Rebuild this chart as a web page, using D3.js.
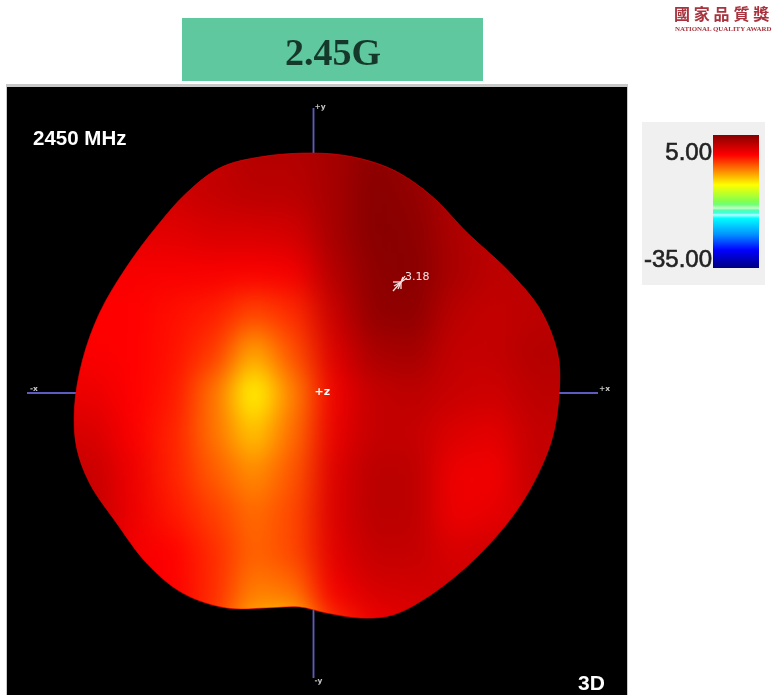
<!DOCTYPE html>
<html>
<head>
<meta charset="utf-8">
<script src="https://cdnjs.cloudflare.com/ajax/libs/d3/7.8.5/d3.min.js"></script>
<style>
  html, body { margin: 0; padding: 0; background: #fff; overflow: hidden; }
  svg { display: block; }
</style>
</head>
<body>
<div id="chart"></div>
<script>
// Surface outline, in plot units from the origin (y up)
const outlineX = [0, -54, -94, -127, -154, -187, -214, -231, -239, -237, -224, -197, -167, -131, -87, -47, -14, 13, 47, 79, 114, 157, 194, 220, 239, 246, 244, 227, 197, 154, 117, 80, 40];
const outlineY = [240, 236, 225, 200, 170, 126, 80, 33, -14, -54, -90, -130, -170, -200, -215, -215, -214, -220, -225, -222, -204, -170, -130, -90, -44, 6, 40, 83, 120, 160, 198, 223, 236];

// Gain grid in dB
const gridX = [-260, -220, -180, -140, -100, -60, -20, 20, 60, 100, 140, 180, 220, 260];
const gridY = [280, 240, 200, 160, 120, 80, 40, 0, -40, -80, -120, -160, -200, -240, -280];
const gainRows = [
  [2, 2, 2, 2, 2, 2.8, 2.8, 3.5, 4.8, 4, 3, 2, 2, 2],
  [2, 2, 2, 2, 2, 2.8, 2.8, 3.5, 4.8, 4, 3, 2, 2, 2],
  [1.5, 1.5, 1.5, 1.5, 2, 2.5, 2.5, 3.5, 5, 4.5, 3, 2, 2, 2],
  [0.5, 0.5, 0.5, 0.5, 1, 1, 1.3, 3.5, 5, 4.8, 3.2, 2.4, 2.4, 2.4],
  [-0.7, -0.7, -0.7, -0.7, -0.7, -0.8, -0.5, 2.8, 4.7, 5, 3.3, 2.4, 2.4, 2.4],
  [-1, -1, -1, -1.5, -2, -3.5, -2.5, 1.8, 4.5, 4.7, 2.5, 2, 2.4, 2.4],
  [-0.8, -0.8, -1, -1.6, -3, -7, -3.8, 0.8, 3.3, 3.6, 2, 2, 2.8, 2.8],
  [0, 0, -1, -1.8, -5, -10, -5.5, -0.3, 2, 2.4, 1.8, 1.5, 2.4, 2.4],
  [1, 1, -0.8, -2.2, -5, -8, -4.8, 0.1, 2, 2, 0.8, 0.4, 2, 2],
  [1.8, 1.8, -0.2, -2.2, -4.2, -6, -4, 0.7, 2.5, 2.4, -0.2, -0.4, 2, 2],
  [2, 2, -0.2, -1.8, -3.2, -4.8, -3.5, 0.8, 2.5, 2.4, -0.2, 0.2, 1.5, 1.5],
  [2, 2, -0.4, -1, -2.5, -4.5, -3.5, 0.5, 2, 2, 1, 1.5, 1.5, 1.5],
  [0.8, 0.8, -0.5, -0.8, -2.5, -5.5, -5, -0.5, 1, 1.2, 1.5, 1.5, 1.5, 1.5],
  [-0.5, -0.5, -0.5, -1, -3, -8, -9, -3, -0.5, 0.5, 1, 1, 1, 1],
  [-0.5, -0.5, -0.5, -1, -3, -8, -9, -3, -0.5, 0.5, 1, 1, 1, 1]
];

// Legend colour bar
const legendLevels = [5, 3, 1, -1, -5.5, -10, -15, -16, -17, -17.6, -18.5, -19, -20, -25, -29.6, -35];
const legendColors = ["#880000", "#b00000", "#d80000", "#ff0000", "#ff8000", "#ffff00", "#80ff50", "#70ff80", "#c8ffc0", "#50ffb0", "#40ffe0", "#b8ffff", "#00ffff", "#0090ff", "#0000ff", "#000080"];
const legendTicks = [5, -35];

const axisEnds = [
  { label: "+y", x: 0, y: 285 },
  { label: "-y", x: 0, y: -285 },
  { label: "+x", x: 284.5, y: 0 },
  { label: "-x", x: -286.5, y: 0 }
];
const peakValue = 3.18;

const width = 773;
const height = 695;

const svg = d3.select("#chart")
  .append("svg")
  .attr("width", width)
  .attr("height", height);

const defs = svg.append("defs");

// Scales
const xScale = d3.scaleLinear().domain([-300, 300]).range([13.5, 613.5]);
const yScale = d3.scaleLinear().domain([-300, 300]).range([693, 93]);
const colorScale = d3.scaleLinear().domain(legendLevels).range(legendColors).clamp(true);
const legendScale = d3.scaleLinear().domain([5, -35]).range([135, 268]);

defs.append("filter").attr("id", "soft")
  .attr("x", "-5%").attr("y", "-5%").attr("width", "110%").attr("height", "110%")
  .attr("color-interpolation-filters", "sRGB")
  .append("feGaussianBlur").attr("stdDeviation", 15);

defs.append("filter").attr("id", "textBlur")
  .attr("x", "-10%").attr("y", "-20%").attr("width", "120%").attr("height", "140%")
  .append("feGaussianBlur").attr("stdDeviation", 0.5);

const outline = d3.line()
  .x(d => xScale(d[0]))
  .y(d => yScale(d[1]))
  .curve(d3.curveCatmullRomClosed);

const outlinePoints = d3.zip(outlineX, outlineY);

defs.append("clipPath").attr("id", "surfaceClip")
  .append("path").attr("d", outline(outlinePoints));

// Title box
svg.append("rect")
  .attr("x", 182).attr("y", 18).attr("width", 301).attr("height", 63)
  .attr("fill", "#5fc89e");

svg.append("text")
  .attr("x", 333).attr("y", 65)
  .attr("text-anchor", "middle")
  .attr("font-family", "Liberation Serif")
  .attr("font-weight", "bold")
  .attr("font-size", 38)
  .attr("fill", "#17382c")
  .attr("filter", "url(#textBlur)")
  .text("2.45G");

// Logo in the corner
const logo = svg.append("g").attr("filter", "url(#textBlur)");
logo.append("text")
  .attr("x", 674).attr("y", 20)
  .attr("font-family", "Noto Sans CJK TC")
  .attr("font-weight", "bold")
  .attr("font-size", 16)
  .attr("letter-spacing", 3.8)
  .attr("fill", "#a8323c")
  .text("國家品質獎");
logo.append("text")
  .attr("x", 675).attr("y", 31)
  .attr("font-family", "Liberation Serif")
  .attr("font-weight", "bold")
  .attr("font-size", 6.9)
  .attr("fill", "#a8323c")
  .text("NATIONAL QUALITY AWARD");

// Black plot panel
svg.append("rect")
  .attr("x", 6).attr("y", 84).attr("width", 622).attr("height", 611)
  .attr("fill", "#c8c8c8");
svg.append("rect")
  .attr("x", 7).attr("y", 87).attr("width", 620).attr("height", 608)
  .attr("fill", "#000");

// Axes behind the surface
const axes = svg.append("g");
axes.selectAll("line")
  .data(axisEnds)
  .enter()
  .append("line")
  .attr("x1", xScale(0))
  .attr("y1", yScale(0))
  .attr("x2", d => xScale(d.x))
  .attr("y2", d => yScale(d.y))
  .attr("stroke", "#5c5cc0")
  .attr("stroke-width", 1.8);

axes.selectAll("text")
  .data(axisEnds)
  .enter()
  .append("text")
  .attr("x", d => xScale(d.x) + (d.x < 0 ? 3 : 1))
  .attr("y", d => yScale(d.y) + (d.x !== 0 ? -2 : d.y > 0 ? 1 : 5))
  .attr("font-family", "DejaVu Sans")
  .attr("font-weight", "bold")
  .attr("font-size", 7.5)
  .attr("fill", "#c8c8c8")
  .attr("filter", "url(#textBlur)")
  .text(d => d.label);

// Surface: gain cells, blurred together and clipped to the outline
const surface = svg.append("g").attr("clip-path", "url(#surfaceClip)");
const cellSize = xScale(40) - xScale(0);

const cells = surface.append("g").attr("filter", "url(#soft)");
gainRows.forEach((row, r) => {
  cells.selectAll(".row" + r)
    .data(row)
    .enter()
    .append("rect")
    .attr("class", "row" + r)
    .attr("x", (d, c) => xScale(gridX[c]) - cellSize / 2)
    .attr("y", yScale(gridY[r]) - cellSize / 2)
    .attr("width", cellSize + 0.5)
    .attr("height", cellSize + 0.5)
    .attr("fill", d => colorScale(d));
});

// Thin bright rim around the surface
svg.append("path")
  .attr("d", outline(outlinePoints))
  .attr("fill", "none")
  .attr("stroke", "#f00000")
  .attr("stroke-opacity", 0.6)
  .attr("stroke-width", 1);

// Labels on the panel
const panelLabels = svg.append("g").attr("filter", "url(#textBlur)");
panelLabels.append("text")
  .attr("x", 33).attr("y", 145)
  .attr("font-family", "Liberation Sans")
  .attr("font-weight", "bold")
  .attr("font-size", 20.5)
  .attr("fill", "#fff")
  .text("2450 MHz");

panelLabels.append("text")
  .attr("x", 578).attr("y", 690)
  .attr("font-family", "Liberation Sans")
  .attr("font-weight", "bold")
  .attr("font-size", 21)
  .attr("fill", "#fff")
  .text("3D");

panelLabels.append("text")
  .attr("x", xScale(0) + 1).attr("y", yScale(0) + 2)
  .attr("font-family", "DejaVu Sans")
  .attr("font-weight", "bold")
  .attr("font-size", 11)
  .attr("fill", "#fff")
  .text("+z");

// Peak marker
const peakPoint = [86.5, 111];
const peak = svg.append("g")
  .attr("transform", `translate(${xScale(peakPoint[0])},${yScale(peakPoint[1])})`)
  .attr("stroke", "#f4e4e4")
  .attr("stroke-width", 1.3)
  .attr("filter", "url(#textBlur)");
[[-7, 9], [-6, 4], [-7, 0], [-2, 7], [1, 7], [5, -6], [7, -4], [3, -5]].forEach(p => {
  peak.append("line").attr("x1", 1).attr("y1", 0).attr("x2", p[0]).attr("y2", p[1]);
});
svg.append("text")
  .attr("x", 405).attr("y", 280)
  .attr("font-family", "DejaVu Sans")
  .attr("font-size", 11)
  .attr("fill", "#f4e4e4")
  .attr("filter", "url(#textBlur)")
  .text(peakValue.toFixed(2));

// Legend
svg.append("rect")
  .attr("x", 642).attr("y", 122).attr("width", 123).attr("height", 163)
  .attr("fill", "#f0f0f0");

const gradient = defs.append("linearGradient")
  .attr("id", "legendGradient")
  .attr("x1", 0).attr("x2", 0).attr("y1", 0).attr("y2", 1);

gradient.selectAll("stop")
  .data(legendLevels)
  .enter()
  .append("stop")
  .attr("offset", d => (5 - d) / 40)
  .attr("stop-color", d => colorScale(d));

svg.append("rect")
  .attr("x", 713).attr("y", legendScale(5))
  .attr("width", 46).attr("height", legendScale(-35) - legendScale(5))
  .attr("fill", "url(#legendGradient)");

svg.selectAll(".legend-label")
  .data(legendTicks)
  .enter()
  .append("text")
  .attr("class", "legend-label")
  .attr("x", 712)
  .attr("y", d => legendScale(d) + (d > 0 ? 25 : -1))
  .attr("text-anchor", "end")
  .attr("font-family", "Liberation Sans")
  .attr("font-size", 24)
  .attr("fill", "#222")
  .attr("stroke", "#222")
  .attr("stroke-width", 0.6)
  .attr("filter", "url(#textBlur)")
  .text(d => d.toFixed(2));
</script>
</body>
</html>
